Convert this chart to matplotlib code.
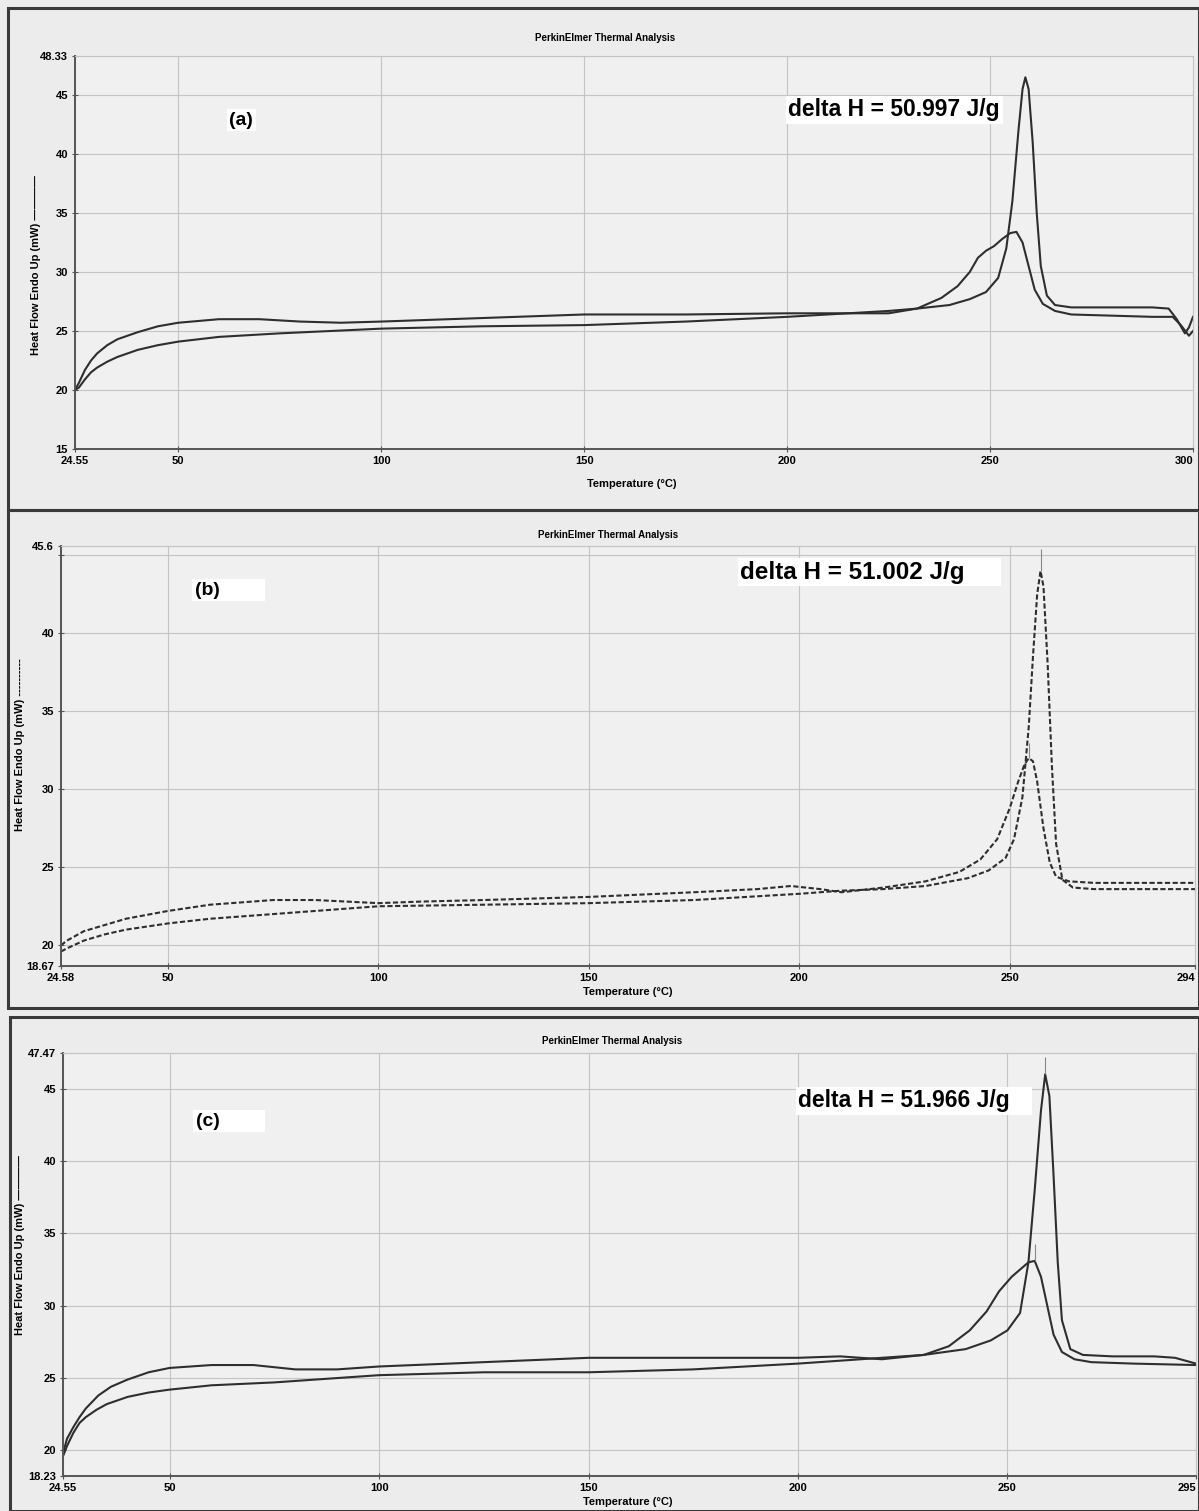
import numpy as np
import matplotlib.pyplot as plt
from matplotlib.patches import Rectangle

plt.rcParams['font.family'] = ['Liberation Sans', 'DejaVu Sans']
plt.rcParams['font.weight'] = 'bold'

W, H = 1199, 1511

# ---- panel (a) ----
a_t1 = [24.55, 25.5, 27, 28.5, 30, 32.5, 35, 40, 45, 50, 60, 75, 100, 125, 150, 175, 200,
        215, 225, 232, 240, 245, 249, 252, 254, 255.5, 257, 258, 258.7, 259.5, 260.5,
        261.5, 262.5, 264, 266, 270, 280, 290, 294, 296, 298, 299, 300]
a_f1 = [20.0, 20.2, 20.9, 21.5, 21.9, 22.4, 22.8, 23.4, 23.8, 24.1, 24.5, 24.8, 25.2, 25.4,
        25.5, 25.8, 26.2, 26.5, 26.7, 26.9, 27.2, 27.7, 28.3, 29.5, 32.0, 36.0, 42.0, 45.5,
        46.5, 45.5, 41.0, 35.0, 30.5, 28.0, 27.2, 27.0, 27.0, 27.0, 26.9, 26.0, 24.8, 25.3,
        26.2]
a_t2 = [24.55, 25.5, 27, 28.5, 30, 32.5, 35, 40, 45, 50, 60, 70, 80, 90, 100, 125, 150, 175,
        200, 215, 225, 232, 238, 242, 245, 247, 249, 251, 253, 255, 256.5, 258, 259.5, 261,
        263, 266, 270, 280, 290, 295, 297, 299, 300]
a_f2 = [20.0, 20.6, 21.7, 22.5, 23.1, 23.8, 24.3, 24.9, 25.4, 25.7, 26.0, 26.0, 25.8, 25.7,
        25.8, 26.1, 26.4, 26.4, 26.5, 26.5, 26.5, 26.9, 27.8, 28.8, 30.0, 31.2, 31.8, 32.2,
        32.8, 33.3, 33.4, 32.5, 30.5, 28.5, 27.3, 26.7, 26.4, 26.3, 26.2, 26.2, 25.5, 24.6,
        25.0]

# ---- panel (b) ----
b_t1 = [24.58, 26, 30, 35, 40, 50, 60, 75, 90, 100, 125, 150, 175, 200, 210, 220, 230,
        240, 245, 249, 251, 253, 254.5, 255.5, 256.5, 257.3, 258, 259, 260, 261, 262.5,
        265, 270, 280, 294]
b_f1 = [19.6, 19.8, 20.3, 20.7, 21.0, 21.4, 21.7, 22.0, 22.3, 22.5, 22.6, 22.7, 22.9, 23.3,
        23.5, 23.6, 23.8, 24.3, 24.8, 25.6, 26.8, 29.5, 34.0, 38.5, 42.5, 44.0, 43.0, 38.0,
        31.5, 26.5, 24.2, 23.7, 23.6, 23.6, 23.6]
b_t2 = [24.58, 26, 30, 35, 40, 50, 60, 75, 85, 100, 110, 125, 150, 175, 190, 198, 205,
        210, 220, 230, 238, 243, 247, 250, 252, 253.5, 254.5, 255.5, 256.5, 258, 259.5,
        261, 264, 270, 294]
b_f2 = [20.0, 20.3, 20.9, 21.3, 21.7, 22.2, 22.6, 22.9, 22.9, 22.7, 22.8, 22.9, 23.1, 23.4,
        23.6, 23.8, 23.6, 23.4, 23.7, 24.1, 24.7, 25.5, 26.8, 28.8, 30.5, 31.6, 32.0, 31.8,
        30.5, 27.5, 25.3, 24.4, 24.1, 24.0, 24.0]

# ---- panel (c) ----
c_t1 = [24.55, 25.5, 27, 28.5, 30, 32.5, 35, 40, 45, 50, 60, 75, 90, 100, 125, 150, 175,
        200, 215, 230, 240, 246, 250, 253, 255, 256.5, 258, 259, 260, 261, 262, 263, 265,
        268, 275, 285, 290, 295]
c_f1 = [19.6, 20.3, 21.2, 21.9, 22.3, 22.8, 23.2, 23.7, 24.0, 24.2, 24.5, 24.7, 25.0, 25.2,
        25.4, 25.4, 25.6, 26.0, 26.3, 26.6, 27.0, 27.6, 28.3, 29.5, 33.0, 38.0, 43.5, 46.0,
        44.5, 39.0, 33.0, 29.0, 27.0, 26.6, 26.5, 26.5, 26.4, 26.0]
c_t2 = [24.55, 25.5, 27, 28.5, 30, 33, 36, 40, 45, 50, 60, 70, 80, 90, 100, 125, 150, 175,
        200, 210, 220, 230, 236, 241, 245, 248, 251, 253, 255, 256.5, 258, 259.5, 261, 263,
        266, 270, 280, 295]
c_f2 = [19.8, 20.8, 21.6, 22.3, 22.9, 23.8, 24.4, 24.9, 25.4, 25.7, 25.9, 25.9, 25.6, 25.6,
        25.8, 26.1, 26.4, 26.4, 26.4, 26.5, 26.3, 26.6, 27.2, 28.3, 29.6, 31.0, 32.0, 32.5,
        33.0, 33.1, 32.0, 30.0, 28.0, 26.8, 26.3, 26.1, 26.0, 25.9]

panels = [
    dict(t1=a_t1, f1=a_f1, t2=a_t2, f2=a_f2,
         xlim=(24.55, 300), ylim=(15, 48.33),
         xticks=[24.55, 50, 100, 150, 200, 250, 300],
         xlabels=['24.55', '50', '100', '150', '200', '250', '300'],
         yticks=[15, 20, 25, 30, 35, 40, 45, 48.33],
         ylabels=['15', '20', '25', '30', '35', '40', '45', '48.33'],
         tag='(a)', dh='delta H = 50.997 J/g', dhsize=16.5, ls='-', marks=[],
         ylab='Heat Flow Endo Up (mW) ————',
         box=(8, 8, 1199, 510), axes=(75, 55.7, 1193, 449),
         title=(605, 38), xlab=(632, 484), ylabpos=(36, 265),
         tagpos=(0.138, 0.836), dhpos=(0.638, 0.862)),
    dict(t1=b_t1, f1=b_f1, t2=b_t2, f2=b_f2,
         xlim=(24.58, 294), ylim=(18.67, 45.6),
         xticks=[24.58, 50, 100, 150, 200, 250, 294],
         xlabels=['24.58', '50', '100', '150', '200', '250', '294'],
         yticks=[18.67, 20, 25, 30, 35, 40, 45, 45.6],
         ylabels=['18.67', '20', '25', '30', '35', '40', '', '45.6'],
         tag='(b)        ', dh='delta H = 51.002 J/g     ', dhsize=17.5,
         ls=(0, (2.5, 1.2)),
         marks=[(257.3, 44.0, 45.4), (254.5, 32.0, 33.0)],
         ylab='Heat Flow Endo Up (mW) ----------',
         box=(8, 510, 1199, 1008), axes=(61, 546, 1195, 966),
         title=(608, 535), xlab=(628, 992), ylabpos=(20, 745),
         tagpos=(0.118, 0.895), dhpos=(0.599, 0.938)),
    dict(t1=c_t1, f1=c_f1, t2=c_t2, f2=c_f2,
         xlim=(24.55, 295), ylim=(18.23, 47.47),
         xticks=[24.55, 50, 100, 150, 200, 250, 295],
         xlabels=['24.55', '50', '100', '150', '200', '250', '295'],
         yticks=[18.23, 20, 25, 30, 35, 40, 45, 47.47],
         ylabels=['18.23', '20', '25', '30', '35', '40', '45', '47.47'],
         tag='(c)        ', dh='delta H = 51.966 J/g   ', dhsize=16.5, ls='-',
         marks=[(259, 46.0, 47.2), (256.5, 33.1, 34.3)],
         ylab='Heat Flow Endo Up (mW) ————',
         box=(10, 1017, 1199, 1511), axes=(63, 1053, 1196, 1476),
         title=(612, 1041), xlab=(628, 1502), ylabpos=(20, 1245),
         tagpos=(0.117, 0.839), dhpos=(0.649, 0.887)),
]

fig = plt.figure(figsize=(W / 100, H / 100), dpi=100)
fig.patch.set_facecolor('#ececec')

for p in panels:
    x0, y0, x1, y1 = p['box']
    fig.add_artist(Rectangle((x0 / W, 1 - y1 / H), (x1 - x0) / W, (y1 - y0) / H,
                             transform=fig.transFigure, fill=False, ec='#3a3a3a', lw=2.2))
    l, t, r, b = p['axes']
    ax = fig.add_axes([l / W, 1 - b / H, (r - l) / W, (b - t) / H])
    ax.set_facecolor('#f0f0f0')
    ax.plot(p['t1'], p['f1'], color='#2e2e2e', lw=1.5, ls=p['ls'])
    ax.plot(p['t2'], p['f2'], color='#2e2e2e', lw=1.5, ls=p['ls'])
    for mx, ylo, yhi in p['marks']:
        ax.vlines(mx, ylo, yhi, color='#888888', lw=0.8)
    ax.set_xlim(*p['xlim'])
    ax.set_ylim(*p['ylim'])
    ax.set_xticks(p['xticks'])
    ax.set_xticklabels(p['xlabels'])
    ax.set_yticks(p['yticks'])
    ax.set_yticklabels(p['ylabels'])
    ax.tick_params(labelsize=8, length=4, direction='inout', color='#555555', pad=3)
    # last label sits at the figure edge: right-align so it stays readable
    ax.get_xticklabels()[-1].set_ha('right')
    ax.grid(True, color='#c4c4c4', lw=0.8)
    for s in ['top', 'right']:
        ax.spines[s].set_color('#c4c4c4')
    for s in ['left', 'bottom']:
        ax.spines[s].set_color('#555555')
        ax.spines[s].set_linewidth(1.4)
    ax.text(p['tagpos'][0], p['tagpos'][1], p['tag'], transform=ax.transAxes,
            fontsize=14, fontweight='bold', va='center', ha='left',
            bbox=dict(fc='white', ec='none', pad=2))
    ax.text(p['dhpos'][0], p['dhpos'][1], p['dh'], transform=ax.transAxes,
            fontsize=p['dhsize'], fontweight='bold', va='center', ha='left',
            bbox=dict(fc='white', ec='none', pad=2))
    fig.text(p['title'][0] / W, 1 - p['title'][1] / H, 'PerkinElmer Thermal Analysis',
             fontsize=7, ha='center', va='center')
    fig.text(p['xlab'][0] / W, 1 - p['xlab'][1] / H, 'Temperature (°C)',
             fontsize=8, ha='center', va='center')
    fig.text(p['ylabpos'][0] / W, 1 - p['ylabpos'][1] / H, p['ylab'],
             fontsize=8, ha='center', va='center', rotation=90)

fig.savefig('out.png', dpi=100, facecolor=fig.get_facecolor())
